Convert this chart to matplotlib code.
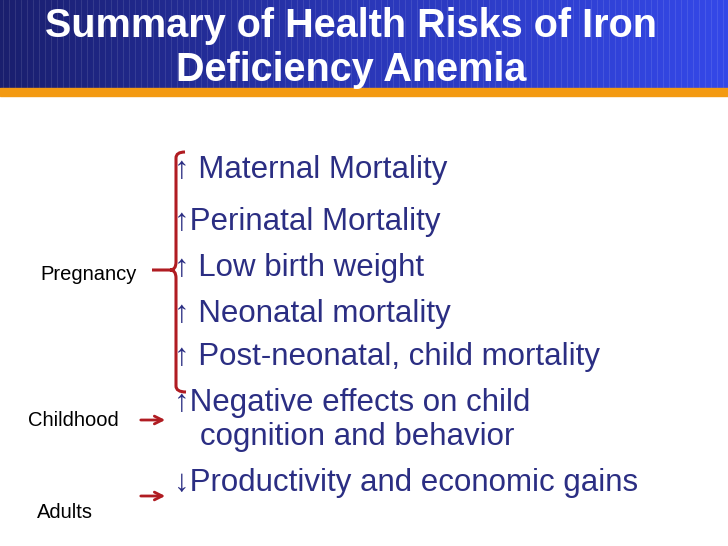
import numpy as np
import matplotlib.pyplot as plt
from matplotlib.patches import Rectangle, FancyArrowPatch, PathPatch
from matplotlib.path import Path
from matplotlib.colors import LinearSegmentedColormap

plt.rcParams['font.family'] = ['Liberation Sans', 'DejaVu Sans']

title_lines = ["Summary of Health Risks of Iron", "Deficiency Anemia"]
items = ["\u2191 Maternal Mortality", "\u2191Perinatal Mortality", "\u2191 Low birth weight",
         "\u2191 Neonatal mortality", "\u2191 Post-neonatal, child mortality",
         "\u2191Negative effects on child\n   cognition and behavior",
         "\u2193Productivity and economic gains"]
item_y = [170, 222, 268, 314, 357, 420, 483]
groups = ["Pregnancy", "Childhood", "Adults"]
group_x = [89, 73, 65]
group_y = [275, 420, 512]

navy = '#2b2e83'
red = '#b01c22'

fig = plt.figure(figsize=(7.28, 5.46), dpi=100)
ax = fig.add_axes([0, 0, 1, 1])
ax.set_xlim(0, 728)
ax.set_ylim(546, 0)
ax.axis('off')

# header gradient
grad = np.linspace(0, 1, 256).reshape(1, -1)
cmap = LinearSegmentedColormap.from_list('hdr', ['#1a1f6e', '#2a37b8', '#3448e8'])
ax.imshow(grad, cmap=cmap, extent=[0, 728, 88, 0], aspect='auto', zorder=0)
for x in np.arange(3, 728, 6):
    ax.plot([x, x], [0, 88], color='white', alpha=0.12, lw=0.6, zorder=1)
ax.add_patch(Rectangle((0, 88), 728, 8, color='#f39a12', zorder=2))

ax.text(351, 26, title_lines[0], color='white', fontsize=28.5, fontweight='bold',
        ha='center', va='center', zorder=3)
ax.text(351, 70, title_lines[1], color='white', fontsize=28.5, fontweight='bold',
        ha='center', va='center', zorder=3)

for txt, y in zip(items, item_y):
    ax.text(174, y, txt, color=navy, fontsize=22.5, ha='left', va='center', linespacing=1.2)

for g, x, y in zip(groups, group_x, group_y):
    ax.text(x, y, g, color='black', fontsize=14.5, ha='center', va='center')

# brace
verts = [(185, 152), (176, 152), (176, 158), (176, 262), (176, 270), (170, 270), (152, 270),
         (170, 270), (176, 270), (176, 278), (176, 386), (176, 392), (186, 392)]
codes = [Path.MOVETO, Path.CURVE3, Path.CURVE3, Path.LINETO, Path.CURVE3, Path.CURVE3, Path.LINETO,
         Path.MOVETO, Path.CURVE3, Path.CURVE3, Path.LINETO, Path.CURVE3, Path.CURVE3]
ax.add_patch(PathPatch(Path(verts, codes), fill=False, ec=red, lw=2.2))

for y in [420, 496]:
    ax.add_patch(FancyArrowPatch((138, y), (168, y), arrowstyle='->', mutation_scale=14,
                                 color=red, lw=2))

fig.savefig('out.png', dpi=100)
